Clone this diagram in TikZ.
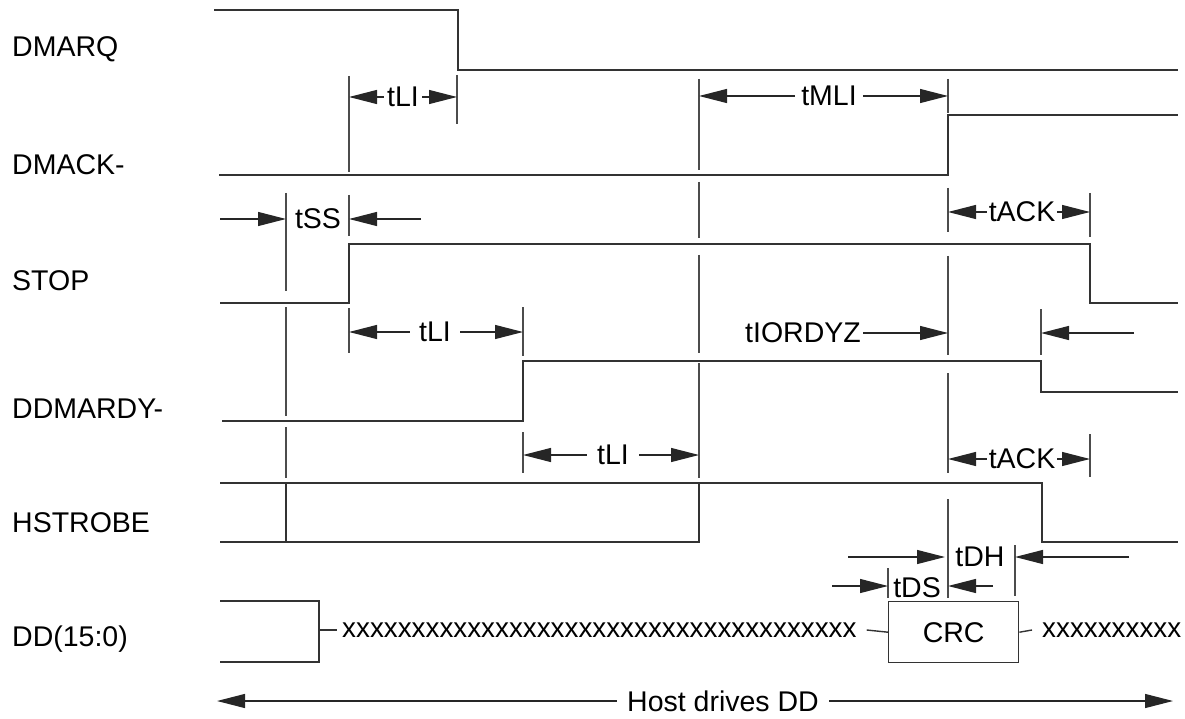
\documentclass[tikz,border=0pt]{standalone}
\usepackage{fontspec}
\setmainfont{Liberation Sans}
\usetikzlibrary{arrows.meta,positioning}

\begin{document}
\begin{tikzpicture}[
  x=1pt, y=-1pt,
  font=\fontsize{28.5}{32}\selectfont,
  wave/.style={draw=black!80, line width=1.4pt},
  tick/.style={draw=black!70, line width=1.2pt},
  dim/.style={-{Triangle[length=28pt,width=14pt]}, draw=black!85, line width=1.2pt},
  sig/.style={anchor=base west, inner sep=0pt},
  tlab/.style={inner ysep=2pt, inner xsep=#1},
  tlab/.default=3pt,
  xx/.style={anchor=west, inner sep=0pt, font=\fontsize{27.8}{30}\selectfont},
]
\useasboundingbox (0,0) rectangle (1185,719);
% edges in time
\coordinate (eSS) at (286,0);
\coordinate (eSTOP) at (349,0);
\coordinate (eRQ) at (457,0);
\coordinate (eRDY) at (523,0);
\coordinate (eHS) at (699,0);
\coordinate (eDS) at (888,0);
\coordinate (eACK) at (948,0);
\coordinate (eDH) at (1015,0);
\coordinate (eRDYoff) at (1041,0);
\coordinate (eSTOPoff) at (1090,0);
% signal names
\node[sig] (nRQ)   at (12,57)  {DMARQ};
\node[sig] (nACK)  at (12,175) {DMACK-};
\node[sig] (nSTOP) at (12,290) {STOP};
\node[sig] (nRDY)  at (12,418) {DDMARDY-};
\node[sig] (nHS)   at (12,532) {HSTROBE};
\node[sig] (nDD)   at (12,646) {DD(15:0)};
% waveforms
\draw[wave] (214,10) -- (458,10) -- (458,70) -- (1178,70);
\draw[wave] (219,175) -- (948,175) -- (948,115) -- (1178,115);
\draw[wave] (220,303) -- (349,303) -- (349,244) -- (1090,244) -- (1090,303) -- (1178,303);
\draw[wave] (222,421) -- (523,421) -- (523,361) -- (1041,361) -- (1041,392) -- (1178,392);
\draw[wave] (220,483) -- (1042,483) -- (1042,542) -- (1178,542);
\draw[wave] (220,542) -- (699,542) -- (699,483);
\draw[wave] (286,483) -- (286,542);
% data bus
\draw[wave] (220,601) -- (319,601) -- (319,662) -- (220,662);
\coordinate (dd0) at (319,630);
\node[xx] (xa) at (342,630) {xxxxxxxxxxxxxxxxxxxxxxxxxxxxxxxxxxxxx};
\node[draw=black!80, line width=1.4pt, minimum width=130pt, minimum height=61pt, anchor=north west, inner sep=0pt] (crc) at (888,601) {CRC};
\node[xx] (xb) at (1042,630) {xxxxxxxxxx};
\draw[wave] (dd0) -- ([xshift=-5pt]xa.west);
\draw[wave] ([xshift=10pt]xa.east) -- (crc.west);
\draw[wave] (crc.east) -- ([xshift=-10pt]xb.west);
% reference ticks
\foreach \x/\a/\b in {286/193/291, 286/307/416, 286/427/478,
    349/76/172, 349/195/236, 349/308/353, 457/75/124,
    523/307/356, 523/432/473,
    699/79/170, 699/182/238, 699/255/353, 699/363/478,
    948/79/113, 948/188/232, 948/256/355, 948/373/473, 948/499/598,
    1090/193/237, 1090/434/477, 1041/309/355, 1015/545/596, 888/568/598}
  \draw[tick] (\x,\a) -- (\x,\b);
% timing labels
\node[tlab] (tli1) at (403,97) {tLI};
\draw[dim] (tli1.west) -- (tli1 -| eSTOP);
\draw[dim] (tli1.east) -- (tli1 -| eRQ);
\node[tlab=6pt] (tmli) at (829,96) {tMLI};
\draw[dim] (tmli.west) -- (tmli -| eHS);
\draw[dim] (tmli.east) -- (tmli -| eACK);
\node[tlab] (tss) at (318,219) {tSS};
\coordinate (ssL) at (220,219);
\coordinate (ssR) at (421,219);
\draw[dim] (ssL) -- (ssL -| eSS);
\draw[dim] (ssR) -- (ssR -| eSTOP);
\node[tlab=2pt] (tack1) at (1022,212) {tACK};
\draw[dim] (tack1.west) -- (tack1 -| eACK);
\draw[dim] (tack1.east) -- (tack1 -| eSTOPoff);
\node[tlab=9pt] (tli2) at (435,332) {tLI};
\draw[dim] (tli2.west) -- (tli2 -| eSTOP);
\draw[dim] (tli2.east) -- (tli2 -| eRDY);
\node[tlab=2pt] (tiordyz) at (803,333) {tIORDYZ};
\draw[dim] (tiordyz.east) -- (tiordyz -| eACK);
\coordinate (zR) at (1134,333);
\draw[dim] (zR) -- (zR -| eRDYoff);
\node[tlab=10pt] (tli3) at (613,455) {tLI};
\draw[dim] (tli3.west) -- (tli3 -| eRDY);
\draw[dim] (tli3.east) -- (tli3 -| eHS);
\node[tlab=2pt] (tack2) at (1022,459) {tACK};
\draw[dim] (tack2.west) -- (tack2 -| eACK);
\draw[dim] (tack2.east) -- (tack2 -| eSTOPoff);
\node[tlab] (tdh) at (980,557) {tDH};
\coordinate (dhL) at (848,557);
\coordinate (dhR) at (1129,557);
\draw[dim] (dhL) -- ([xshift=-3pt]dhL -| eACK);
\draw[dim] (dhR) -- (dhR -| eDH);
\node[tlab] (tds) at (917,588) {tDS};
\coordinate (dsL) at (832,586);
\coordinate (dsR) at (993,586);
\draw[dim] (dsL) -- (dsL -| eDS);
\draw[dim] (dsR) -- (dsR -| eACK);
% bus ownership
\node[tlab=10pt] (host) at (723,701) {Host drives DD};
\coordinate (hostL) at (217,701);
\coordinate (hostR) at (1173,701);
\draw[dim] (host.west) -- (hostL);
\draw[dim] (host.east) -- (hostR);
\end{tikzpicture}
\end{document}
